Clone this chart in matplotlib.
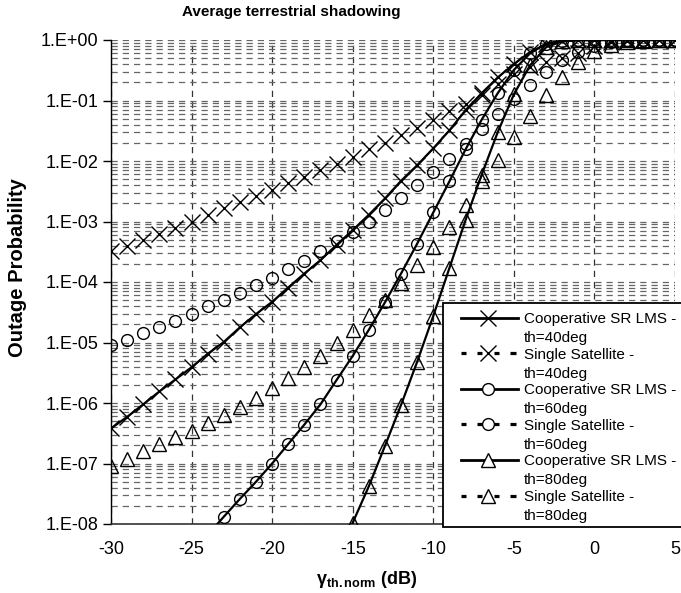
import numpy as np
import matplotlib
matplotlib.use("Agg")
import matplotlib.pyplot as plt
from matplotlib.lines import Line2D
from matplotlib.patches import Rectangle
from matplotlib.ticker import LogLocator, FuncFormatter, NullFormatter

plt.rcParams['font.family'] = ['Liberation Sans', 'DejaVu Sans']
plt.rcParams['mathtext.fontset'] = 'custom'
plt.rcParams['mathtext.rm'] = 'Liberation Sans'
plt.rcParams['mathtext.bf'] = 'Liberation Sans:bold'
plt.rcParams['mathtext.it'] = 'Liberation Sans:italic'

# ---------------- data ----------------
x_db = list(range(-30, 6))

single_40 = [3.2e-4, 3.9e-4, 4.9e-4, 6.3e-4, 7.9e-4, 1.0e-3, 1.3e-3, 1.66e-3, 2.1e-3, 2.6e-3,
             3.3e-3, 4.3e-3, 5.5e-3, 7.1e-3, 8.9e-3, 1.17e-2, 1.55e-2, 2.0e-2, 2.7e-2, 3.5e-2,
             4.7e-2, 6.6e-2, 8.9e-2, 0.123, 0.19, 0.27, 0.36, 0.43, 0.50, 0.60,
             0.79, 0.93, 0.98, 1.0, 1.0, 1.0]

coop_40 = [3.8e-7, 5.9e-7, 9.5e-7, 1.55e-6, 2.45e-6, 3.9e-6, 6.5e-6, 1.02e-5, 1.78e-5, 2.95e-5,
           4.7e-5, 8.1e-5, 1.38e-4, 2.3e-4, 4.1e-4, 7.2e-4, 1.29e-3, 2.4e-3, 4.7e-3, 8.5e-3,
           1.62e-2, 3.2e-2, 6.9e-2, 0.132, 0.24, 0.40, 0.63, 0.85, 0.955, 0.99,
           1.0, 1.0, 1.0, 1.0, 1.0, 1.0]

single_60 = [9.1e-6, 1.12e-5, 1.45e-5, 1.82e-5, 2.3e-5, 3.0e-5, 4.0e-5, 5.1e-5, 6.6e-5, 8.9e-5,
             1.15e-4, 1.62e-4, 2.2e-4, 3.3e-4, 4.7e-4, 6.8e-4, 1.0e-3, 1.55e-3, 2.45e-3, 4.0e-3,
             6.6e-3, 1.07e-2, 1.9e-2, 3.4e-2, 6.0e-2, 0.107, 0.18, 0.30, 0.46, 0.63,
             0.79, 0.91, 0.965, 0.99, 1.0, 1.0]

coop_60 = [np.nan, np.nan, np.nan, np.nan, np.nan, np.nan, 6.6e-9, 1.32e-8, 2.6e-8, 5.0e-8,
           1.0e-7, 2.1e-7, 4.4e-7, 9.5e-7, 2.4e-6, 6.0e-6, 1.62e-5, 4.6e-5, 1.38e-4, 4.3e-4,
           1.41e-3, 4.6e-3, 1.55e-2, 4.8e-2, 0.132, 0.32, 0.60, 0.87, 0.98, 1.0,
           1.0, 1.0, 1.0, 1.0, 1.0, 1.0]

single_80 = [9.1e-8, 1.17e-7, 1.58e-7, 2.1e-7, 2.7e-7, 3.5e-7, 4.6e-7, 6.3e-7, 8.7e-7, 1.2e-6,
             1.74e-6, 2.6e-6, 3.9e-6, 5.9e-6, 1.0e-5, 1.62e-5, 2.8e-5, 5.0e-5, 9.5e-5, 1.9e-4,
             3.8e-4, 8.1e-4, 1.86e-3, 4.7e-3, 1.05e-2, 2.5e-2, 5.5e-2, 0.123, 0.245, 0.44,
             0.65, 0.83, 0.93, 0.98, 1.0, 1.0]

coop_80 = [np.nan, np.nan, np.nan, np.nan, np.nan, np.nan, np.nan, np.nan, np.nan, np.nan,
           np.nan, np.nan, np.nan, np.nan, 3.2e-9, 1.05e-8, 4.2e-8, 1.95e-7, 9.3e-7, 4.8e-6,
           2.75e-5, 1.7e-4, 1.05e-3, 5.9e-3, 3.0e-2, 0.126, 0.38, 0.76, 0.955, 1.0,
           1.0, 1.0, 1.0, 1.0, 1.0, 1.0]

label_line1 = ["Cooperative SR LMS -", "Single Satellite -",
               "Cooperative SR LMS -", "Single Satellite -",
               "Cooperative SR LMS -", "Single Satellite -"]
label_line2 = ["th=40deg", "th=40deg", "th=60deg", "th=60deg", "th=80deg", "th=80deg"]

x_ticks = [-30, -25, -20, -15, -10, -5, 0, 5]

# ---------------- figure ----------------
W, H = 681, 593
fig = plt.figure(figsize=(W / 100, H / 100), dpi=100)
ax = fig.add_axes([111 / W, (H - 524) / H, 564 / W, 484 / H])

ax.set_yscale('log')
ax.set_xlim(-30, 5)
ax.set_ylim(1e-8, 1)

ax.yaxis.set_major_locator(LogLocator(base=10, numticks=20))
ax.yaxis.set_minor_locator(LogLocator(base=10, subs=np.arange(2, 10), numticks=20))
ax.yaxis.set_major_formatter(FuncFormatter(lambda v, p: "1.E%+03d" % int(round(np.log10(v)))))
ax.yaxis.set_minor_formatter(NullFormatter())
ax.set_xticks(x_ticks)
ax.set_xticklabels([str(t) for t in x_ticks])

ax.grid(True, which='both', axis='y', color='#666666', linestyle=(0, (5, 4)), linewidth=0.9)
ax.grid(True, which='major', axis='x', color='#333333', linestyle=(0, (5, 4)), linewidth=0.9)
ax.set_axisbelow(True)

for s in ['top', 'right']:
    ax.spines[s].set_visible(False)
ax.spines['left'].set_color('black')
ax.spines['left'].set_linewidth(1.0)
ax.spines['bottom'].set_color('#333333')
ax.spines['bottom'].set_linewidth(1.2)

ax.tick_params(axis='y', which='major', direction='out', length=6, width=1, labelsize=13, pad=3)
ax.tick_params(axis='y', which='minor', length=0)
ax.tick_params(axis='x', which='major', length=0, labelsize=13, pad=12)

lw = 1.6
styles = [
    dict(marker='x', ms=11, mew=1.0),
    dict(marker='x', ms=11, mew=1.0),
    dict(marker='o', ms=8.5, mew=1.0, mfc='none'),
    dict(marker='o', ms=8.5, mew=1.0, mfc='none'),
    dict(marker='^', ms=10, mew=1.0, mfc='none'),
    dict(marker='^', ms=10, mew=1.0, mfc='none'),
]
series = [coop_40, single_40, coop_60, single_60, coop_80, single_80]
is_coop = [True, False, True, False, True, False]
for ys, st, coop in zip(series, styles, is_coop):
    if coop:
        ax.plot(x_db, ys, ls='-', lw=lw, color='black', zorder=4, **st)
    else:
        ax.plot(x_db, ys, ls='none', color='black', zorder=3, **st)

# ---------------- legend (drawn by hand to match layout) ----------------
def fx(px):
    return px / W


def fy(py):
    return 1 - py / H


box = Rectangle((fx(443), fy(527)), (700 - 443) / W, (527 - 303) / H,
                transform=fig.transFigure, facecolor='white', edgecolor='black',
                linewidth=1.3, zorder=2)
fig.patches.append(box)

step = 35.6
for i in range(6):
    yc = 317.5 + i * step
    st = dict(styles[i])
    if 'mfc' in st:
        st['mfc'] = 'white'
    if is_coop[i]:
        fig.add_artist(Line2D([fx(461), fx(518)], [fy(yc), fy(yc)], transform=fig.transFigure,
                              color='black', lw=2.0, zorder=7))
    else:
        for a, b in [(461, 466), (477, 482), (494, 499), (510, 516)]:
            fig.add_artist(Line2D([fx(a), fx(b)], [fy(yc), fy(yc)], transform=fig.transFigure,
                                  color='black', lw=2.3, solid_capstyle='butt', zorder=7))
    fig.add_artist(Line2D([fx(488)], [fy(yc)], transform=fig.transFigure, color='black',
                          ls='none', zorder=8, **st))
    fig.text(fx(524), fy(yc + 5.5), label_line1[i], fontsize=11, va='baseline', ha='left', zorder=8)
    fig.text(fx(524), fy(yc + 24.5), label_line2[i], fontsize=11, va='baseline', ha='left', zorder=8)

fig.text(fx(291), fy(12), "Average terrestrial shadowing", ha='center', va='center',
         fontsize=11, fontweight='bold')

ax.set_ylabel("Outage Probability", fontsize=14.5, fontweight='bold')
ax.yaxis.label.set_va('center')
ax.yaxis.set_label_coords((18 - 111) / 564, (524 - 268) / 484)

ax.set_xlabel(r"$\mathbf{γ_{th.norm}}$ (dB)", fontsize=13, fontweight='bold')
ax.xaxis.label.set_va('center')
ax.xaxis.set_label_coords((367 - 111) / 564, -(579 - 524) / 484)

fig.savefig("out.png", dpi=100)
